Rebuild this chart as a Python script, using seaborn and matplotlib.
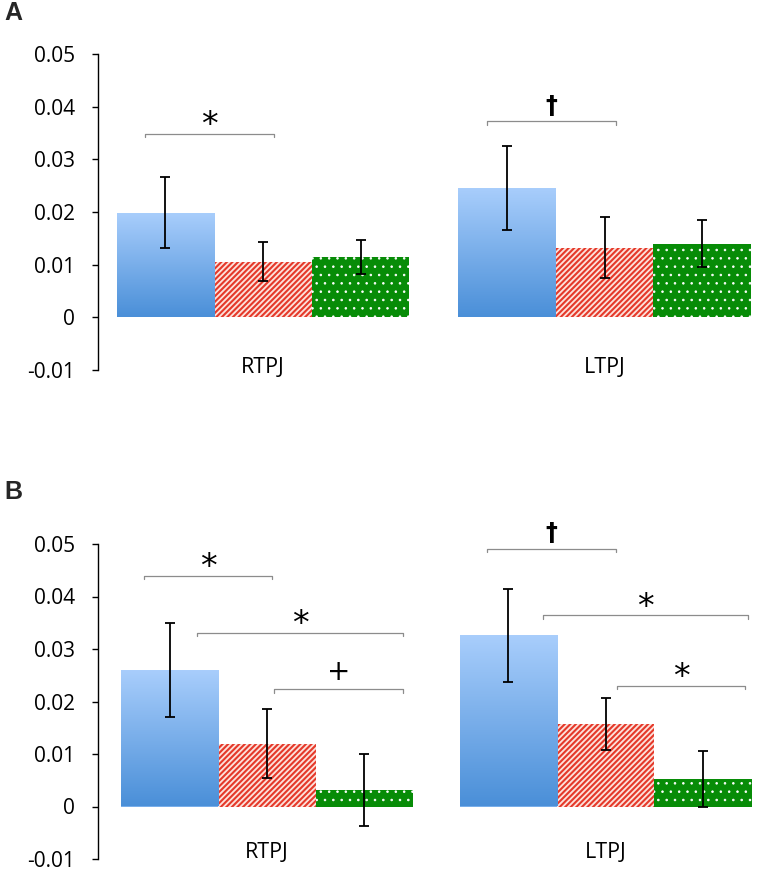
import numpy as np
import pandas as pd
import matplotlib
matplotlib.use("Agg")
import matplotlib.pyplot as plt
from matplotlib.colors import LinearSegmentedColormap
import seaborn as sns

# ---------------- data ----------------
regions = ["RTPJ", "LTPJ"]
conditions = ["Condition 1", "Condition 2", "Condition 3"]

# Panel A (means and error per condition, ordered by region)
a_means = {
    "Condition 1": [0.0199, 0.0246],
    "Condition 2": [0.0106, 0.0132],
    "Condition 3": [0.0114, 0.0140],
}
a_errs = {
    "Condition 1": [0.0067, 0.0080],
    "Condition 2": [0.0037, 0.0058],
    "Condition 3": [0.0032, 0.0045],
}
# Panel B
b_means = {
    "Condition 1": [0.0260, 0.0326],
    "Condition 2": [0.0120, 0.0157],
    "Condition 3": [0.0031, 0.0053],
}
b_errs = {
    "Condition 1": [0.0090, 0.0088],
    "Condition 2": [0.0065, 0.0050],
    "Condition 3": [0.0069, 0.0053],
}

y_ticks = [-0.01, 0, 0.01, 0.02, 0.03, 0.04, 0.05]
y_ticklabels = ["-0.01", "0", "0.01", "0.02", "0.03", "0.04", "0.05"]

# significance brackets: (x_start, x_end, y, symbol)
a_brackets = [
    (-0.345, 0.032, 0.0349, "*"),
    (0.656, 1.034, 0.0372, "†"),
]
b_brackets = [
    (-0.363, 0.015, 0.0440, "*"),
    (-0.207, 0.402, 0.0331, "*"),
    (0.021, 0.402, 0.0223, "+"),
    (0.650, 1.031, 0.0491, "†"),
    (0.815, 1.421, 0.0364, "*"),
    (1.034, 1.412, 0.0230, "*"),
]

# ---------------- style ----------------
sns.set_theme(style="white")
plt.rcParams["font.family"] = ["Open Sans", "DejaVu Sans"]
plt.rcParams["hatch.linewidth"] = 1.5

blue_cmap = LinearSegmentedColormap.from_list("bl", ["#4a8fd8", "#a9cefc"])
red_edge = "#e5392a"
red_face = "#fde2dc"
green_face = "#078c07"

W, H = 762, 876
fig = plt.figure(figsize=(W / 100, H / 100), dpi=100)
axA = fig.add_axes([98 / W, 1 - 370 / H, 662 / W, 316 / H])
axB = fig.add_axes([98 / W, 1 - 859 / H, 662 / W, 315 / H])


def make_df(means):
    rows = []
    for c in conditions:
        for r, v in zip(regions, means[c]):
            rows.append({"region": r, "condition": c, "value": v})
    return pd.DataFrame(rows)


def set_hlw(bar, lw):
    if hasattr(bar, "set_hatch_linewidth"):
        bar.set_hatch_linewidth(lw)


def draw_panel(ax, means, errs, width, xlim, label_y, brackets):
    df = make_df(means)
    sns.barplot(data=df, x="region", y="value", hue="condition",
                order=regions, hue_order=conditions,
                palette=["#78aeea", red_face, green_face],
                width=width, errorbar=None, legend=False, ax=ax,
                linewidth=0, saturation=1)
    bar_containers = list(ax.containers)
    ax.set_xlim(*xlim)
    ax.set_ylim(-0.01, 0.05)

    # styling of bars
    for ci, cont in enumerate(bar_containers):
        for bar in cont:
            bar.set_linewidth(0)
            bar.set_zorder(2)
            if ci == 0:
                x0, y0 = bar.get_x(), bar.get_y()
                w, h = bar.get_width(), bar.get_height()
                grad = np.linspace(1, 0, 256).reshape(-1, 1)
                im = ax.imshow(grad, extent=[x0, x0 + w, y0, y0 + h],
                               aspect="auto", cmap=blue_cmap, origin="upper",
                               zorder=2.1, interpolation="bilinear")
                im.set_clip_path(bar)
            elif ci == 1:
                bar.set_facecolor(red_face)
                bar.set_edgecolor(red_edge)
                bar.set_hatch("//////")
                bar.set_linewidth(0)
                set_hlw(bar, 1.5)
            else:
                bar.set_facecolor(green_face)
                bar.set_edgecolor("white")
                bar.set_hatch("..")
                bar.set_linewidth(0)
                set_hlw(bar, 0.6)

    # error bars
    for ci, cont in enumerate(bar_containers):
        c = conditions[ci]
        for j, bar in enumerate(cont):
            xc = bar.get_x() + bar.get_width() / 2
            ax.errorbar(xc, means[c][j], yerr=errs[c][j], fmt="none",
                        ecolor="black", elinewidth=1.3, capsize=3.5,
                        capthick=1.3, zorder=5)

    ax.set_xlim(*xlim)
    ax.set_ylim(-0.01, 0.05)

    # axes styling
    for s in ["top", "right", "bottom"]:
        ax.spines[s].set_visible(False)
    ax.spines["left"].set_color("black")
    ax.spines["left"].set_linewidth(1.0)
    ax.set_yticks(y_ticks)
    ax.set_yticklabels(y_ticklabels)
    ax.tick_params(axis="y", direction="out", length=4.3, width=1.0,
                   color="black", pad=12, labelsize=15, left=True,
                   labelcolor="black")
    ax.set_xticks([])
    ax.set_xlabel("")
    ax.set_ylabel("")
    ax.patch.set_alpha(0)

    for j, r in enumerate(regions):
        ax.text(j, label_y, r, ha="center", va="center", fontsize=15.5,
                color="black", clip_on=False)

    # brackets
    tick = 0.0006
    for x0, x1, y, sym in brackets:
        ax.plot([x0, x0, x1, x1], [y - tick, y, y, y - tick],
                color="#8c8c8c", lw=0.9, clip_on=False, zorder=4)
        xm = (x0 + x1) / 2
        if sym == "†":
            ax.text(xm, y + 0.0007, sym, ha="center", va="bottom",
                    fontsize=17, fontweight="bold", family="DejaVu Sans",
                    color="black", clip_on=False)
        elif sym == "+":
            ax.text(xm, y + 0.0006, sym, ha="center", va="bottom",
                    fontsize=20, family="DejaVu Sans", color="black",
                    clip_on=False)
        else:
            ax.text(xm, y - 0.0016, sym, ha="center", va="bottom",
                    fontsize=24, family="DejaVu Sans", color="black",
                    clip_on=False)


draw_panel(axA, a_means, a_errs, 0.857, (-0.483, 1.455), -0.0096, a_brackets)
draw_panel(axB, b_means, b_errs, 0.862, (-0.499, 1.456), -0.0088, b_brackets)

fig.text(13 / W, 1 - 13 / H, "A", ha="center", va="center", fontsize=18,
         fontweight="bold", family="Liberation Sans")
fig.text(13 / W, 1 - 492 / H, "B", ha="center", va="center", fontsize=18,
         fontweight="bold", family="Liberation Sans")

fig.savefig("out.png", dpi=100)
